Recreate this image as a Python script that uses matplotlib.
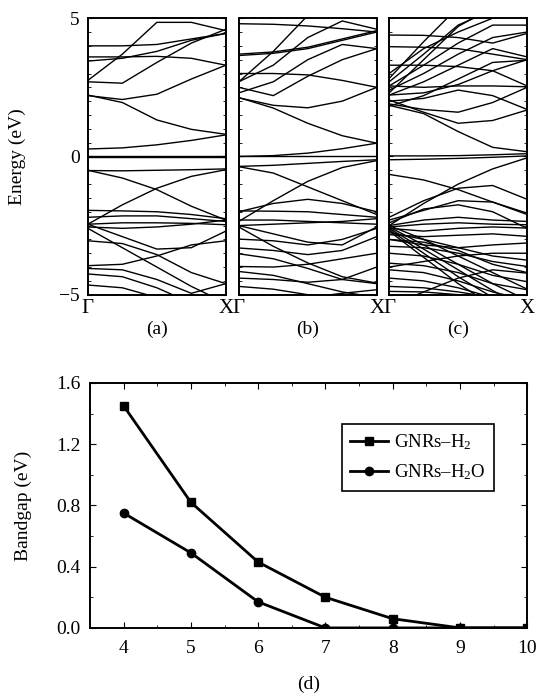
import numpy as np
import matplotlib
matplotlib.use("Agg")
import matplotlib.pyplot as plt
from matplotlib.ticker import MultipleLocator, FormatStrFormatter

plt.rcParams['font.family'] = ['Liberation Serif', 'DejaVu Serif']
plt.rcParams['mathtext.fontset'] = 'custom'
plt.rcParams['mathtext.rm'] = 'Liberation Serif'
plt.rcParams['mathtext.it'] = 'Liberation Serif:italic'

# k-points along Gamma -> X (fraction of the path)
kpts = [0.0, 0.25, 0.5, 0.75, 1.0]

# band energies (eV) read at the k-points, panel (a)
bands_a = [
    [0.00, 0.00, 0.00, 0.00, 0.00],
    [-0.03, -0.03, -0.03, -0.03, -0.03],
    [0.27, 0.31, 0.42, 0.58, 0.78],
    [2.22, 1.95, 1.32, 0.98, 0.80],
    [2.20, 2.06, 2.25, 2.80, 3.30],
    [2.70, 2.65, 3.40, 4.10, 4.60],
    [2.75, 3.70, 4.85, 4.85, 4.55],
    [3.60, 3.60, 3.62, 3.55, 3.30],
    [3.45, 3.55, 3.80, 4.20, 4.45],
    [4.00, 4.00, 4.05, 4.25, 4.45],
    [-0.51, -0.52, -0.50, -0.48, -0.45],
    [-0.50, -0.78, -1.20, -1.80, -2.30],
    [-2.45, -1.75, -1.15, -0.72, -0.48],
    [-1.95, -1.97, -2.00, -2.10, -2.25],
    [-2.20, -2.15, -2.15, -2.25, -2.35],
    [-2.45, -2.90, -3.35, -3.30, -2.70],
    [-2.45, -2.40, -2.40, -2.42, -2.47],
    [-2.55, -2.60, -2.55, -2.45, -2.30],
    [-3.05, -3.15, -3.55, -4.20, -4.60],
    [-3.95, -3.90, -3.60, -3.20, -3.05],
    [-4.05, -4.10, -4.45, -4.95, -4.60],
    [-4.25, -4.35, -4.75, -5.30, -5.60],
    [-4.65, -4.75, -5.10, -5.50, -5.80],
    [-2.60, -3.30, -4.00, -4.70, -5.30],
]

# panel (b)
bands_b = [
    [0.00, 0.00, 0.00, 0.00, 0.00],
    [0.00, 0.03, 0.12, 0.28, 0.48],
    [2.13, 1.75, 1.20, 0.75, 0.48],
    [2.12, 1.85, 1.76, 2.00, 2.50],
    [2.50, 2.20, 2.90, 3.50, 3.90],
    [3.00, 3.00, 2.95, 2.75, 2.50],
    [2.70, 3.80, 5.10, 6.00, 6.50],
    [2.70, 3.30, 4.30, 4.90, 4.60],
    [3.70, 3.78, 3.95, 4.25, 4.55],
    [3.65, 3.73, 3.90, 4.20, 4.50],
    [4.80, 4.78, 4.72, 4.62, 4.50],
    [2.30, 2.70, 3.50, 4.05, 3.90],
    [-0.36, -0.32, -0.25, -0.18, -0.12],
    [-0.37, -0.60, -1.10, -1.60, -2.10],
    [-2.35, -1.60, -0.90, -0.40, -0.15],
    [-2.00, -1.70, -1.55, -1.70, -2.00],
    [-1.97, -1.98, -2.00, -2.10, -2.20],
    [-2.30, -2.30, -2.35, -2.40, -2.45],
    [-2.50, -2.45, -2.40, -2.35, -2.25],
    [-2.50, -2.80, -3.10, -3.20, -2.55],
    [-2.55, -3.25, -3.85, -4.35, -4.58],
    [-2.99, -3.05, -3.20, -3.00, -2.60],
    [-3.31, -3.40, -3.55, -3.40, -2.90],
    [-3.52, -3.70, -4.05, -4.45, -4.60],
    [-3.98, -4.00, -3.90, -3.70, -3.50],
    [-4.16, -4.30, -4.60, -4.90, -5.10],
    [-4.40, -4.45, -4.55, -4.45, -4.00],
    [-4.70, -4.80, -5.00, -5.20, -5.40],
    [-6.00, -5.60, -5.10, -4.95, -4.82],
]

# panel (c)
bands_c = [
    [0.02, 0.02, 0.03, 0.06, 0.10],
    [-0.12, -0.10, -0.07, -0.03, 0.02],
    [1.85, 1.55, 0.90, 0.33, 0.17],
    [2.04, 1.60, 1.20, 1.30, 1.68],
    [1.90, 1.70, 1.60, 1.95, 2.50],
    [2.22, 2.30, 2.60, 3.10, 3.50],
    [3.30, 3.30, 3.25, 3.10, 2.55],
    [3.97, 3.95, 3.90, 3.70, 3.50],
    [4.39, 4.38, 4.30, 4.10, 4.45],
    [2.82, 4.15, 5.40, 6.00, 6.50],
    [2.70, 3.70, 4.75, 5.30, 5.60],
    [2.55, 3.30, 4.10, 4.75, 4.75],
    [2.40, 3.00, 3.70, 4.30, 4.50],
    [2.22, 2.70, 3.30, 3.90, 3.60],
    [1.82, 2.20, 2.80, 3.40, 3.48],
    [2.55, 2.50, 2.55, 2.55, 2.52],
    [3.00, 3.90, 4.50, 5.00, 5.10],
    [2.30, 3.50, 4.70, 5.40, 5.80],
    [2.00, 2.10, 2.40, 2.20, 1.70],
    [-0.65, -0.85, -1.20, -1.65, -2.10],
    [-2.50, -1.70, -1.00, -0.45, -0.05],
    [-2.20, -1.60, -1.15, -1.05, -1.55],
    [-2.30, -1.95, -1.60, -1.65, -2.05],
    [-2.40, -1.90, -1.75, -2.00, -2.60],
    [-2.50, -3.00, -3.60, -4.20, -4.80],
    [-2.55, -3.20, -3.90, -4.60, -5.20],
    [-2.60, -3.35, -4.10, -4.85, -5.50],
    [-2.65, -3.50, -4.35, -5.10, -5.80],
    [-2.70, -3.65, -4.60, -5.40, -6.00],
    [-2.75, -3.00, -3.30, -3.60, -3.75],
    [-3.00, -3.10, -3.40, -3.90, -4.20],
    [-3.25, -3.30, -3.50, -3.80, -3.98],
    [-3.50, -3.60, -3.90, -4.30, -4.53],
    [-3.86, -3.95, -4.20, -4.60, -4.82],
    [-4.10, -4.20, -4.50, -4.90, -5.20],
    [-4.40, -4.50, -4.75, -5.10, -5.40],
    [-4.70, -4.75, -4.90, -5.10, -5.30],
    [-4.88, -4.90, -5.00, -5.20, -5.40],
    [-2.50, -2.30, -2.20, -2.30, -2.35],
    [-2.55, -2.45, -2.40, -2.45, -2.47],
    [-2.60, -2.70, -2.60, -2.55, -2.59],
    [-2.83, -2.90, -2.85, -2.80, -2.89],
    [-3.00, -3.20, -3.30, -3.20, -3.13],
    [-4.00, -3.80, -3.60, -3.50, -3.50],
    [-5.40, -4.90, -4.40, -4.10, -4.22],
]

# panel (d): bandgap vs ribbon width
width = [4, 5, 6, 7, 8, 9, 10]
gap_h2 = [1.45, 0.82, 0.43, 0.20, 0.06, 0.00, 0.00]
gap_h2o = [0.75, 0.49, 0.17, 0.00, 0.00, 0.00, 0.00]

fig = plt.figure(figsize=(5.39, 7.0), dpi=100)

lefts = [0.163, 0.443, 0.722]
panels = [bands_a, bands_b, bands_c]
tags = ['(a)', '(b)', '(c)']
for i in range(3):
    ax = fig.add_axes([lefts[i], 0.579, 0.256, 0.395])
    for b in panels[i]:
        ax.plot(kpts, b, color='black', lw=1.0)
    ax.set_xlim(0, 1)
    ax.set_ylim(-5, 5)
    ax.set_xticks([0, 1])
    ax.set_xticklabels(['Γ', 'X'], fontsize=15)
    ax.tick_params(axis='x', length=0, pad=3)
    ax.yaxis.set_major_locator(MultipleLocator(5))
    ax.yaxis.set_minor_locator(MultipleLocator(0.5))
    ax.tick_params(axis='y', which='both', direction='in', left=True, right=True)
    ax.tick_params(axis='y', which='major', length=3, labelsize=14, pad=6)
    ax.tick_params(axis='y', which='minor', length=2)
    if i > 0:
        ax.set_yticklabels([])
    else:
        ax.set_ylabel('Energy (eV)', fontsize=14, labelpad=24)
    for s in ax.spines.values():
        s.set_linewidth(1.4)
    ax.text(0.5, -0.127, tags[i], transform=ax.transAxes, ha='center', va='center', fontsize=14)

ax = fig.add_axes([0.167, 0.103, 0.811, 0.35])
ax.plot(width, gap_h2, color='black', lw=2, marker='s', ms=6, label='GNRs–H$_2$')
ax.plot(width, gap_h2o, color='black', lw=2, marker='o', ms=6, label='GNRs–H$_2$O')
ax.set_xlim(3.5, 10)
ax.set_ylim(0, 1.6)
ax.xaxis.set_major_locator(MultipleLocator(1))
ax.xaxis.set_minor_locator(MultipleLocator(0.5))
ax.yaxis.set_major_locator(MultipleLocator(0.4))
ax.yaxis.set_minor_locator(MultipleLocator(0.2))
ax.yaxis.set_major_formatter(FormatStrFormatter('%.1f'))
ax.tick_params(which='both', direction='in', top=True, right=True, labelsize=14)
ax.tick_params(axis='x', which='major', pad=9)
ax.tick_params(axis='y', which='major', pad=7)
ax.tick_params(which='major', length=4)
ax.tick_params(which='minor', length=2)
for s in ax.spines.values():
    s.set_linewidth(1.4)
ax.set_ylabel('Bandgap (eV)', fontsize=14, labelpad=17)
ax.text(0.5, -0.23, '(d)', transform=ax.transAxes, ha='center', va='center', fontsize=14)
leg = ax.legend(loc='upper left', bbox_to_anchor=(0.555, 0.87), fontsize=13.5,
                fancybox=False, edgecolor='black', framealpha=1,
                handlelength=2.0, handletextpad=0.3, borderpad=0.45, labelspacing=0.55)
leg.get_frame().set_linewidth(1.2)

fig.savefig('out.png', dpi=100)
